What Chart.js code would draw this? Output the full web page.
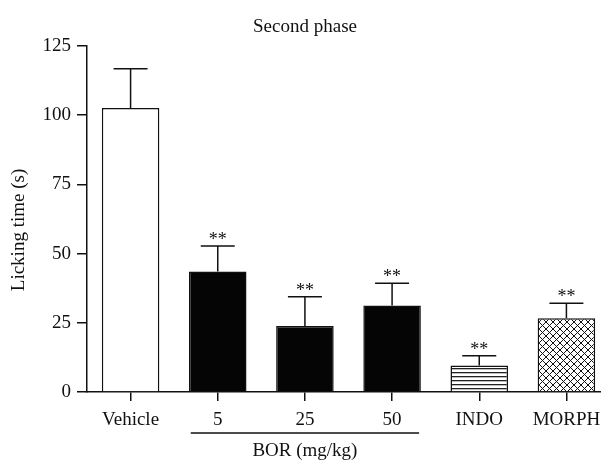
<!DOCTYPE html>
<html>
<head>
<meta charset="utf-8">
<script src="https://cdn.jsdelivr.net/npm/chart.js@4"></script>
<style>
  html, body { margin: 0; padding: 0; background: #fff; overflow: hidden; }
  #wrap { width: 601px; height: 462px; overflow: hidden; }
</style>
</head>
<body>
<div id="wrap"><canvas id="myChart" width="610" height="462"></canvas></div>
<script>
const categories = ["Vehicle", "5", "25", "50", "INDO", "MORPH"];
const means = [102.5, 43.5, 23.8, 31.2, 9.6, 26.6];
const sems = [14.2, 9.2, 10.6, 8.1, 3.5, 5.4];
const marks = ["", "**", "**", "**", "**", "**"];
const yTicks = [0, 25, 50, 75, 100, 125];

const FONT = "'Liberation Serif', 'Times New Roman', serif";

const ctx = document.querySelector("#myChart").getContext("2d");

// Hatch patterns for INDO and MORPH
function stripePattern() {
  const c = document.createElement("canvas");
  c.width = 8; c.height = 4;
  const g = c.getContext("2d");
  g.fillStyle = "#fff";
  g.fillRect(0, 0, 8, 4);
  g.fillStyle = "#222";
  g.fillRect(0, 0, 8, 1.3);
  return ctx.createPattern(c, "repeat");
}
function crossPattern() {
  const c = document.createElement("canvas");
  c.width = 7; c.height = 7;
  const g = c.getContext("2d");
  g.fillStyle = "#fff";
  g.fillRect(0, 0, 7, 7);
  g.strokeStyle = "#111";
  g.lineWidth = 1;
  g.beginPath();
  g.moveTo(0, 0); g.lineTo(7, 7);
  g.moveTo(7, 0); g.lineTo(0, 7);
  g.stroke();
  return ctx.createPattern(c, "repeat");
}

const fills = ["#fff", "#050505", "#050505", "#050505", stripePattern(), crossPattern()];

// error bars, asterisks, y title and the BOR bracket
const extras = {
  id: "extras",
  afterDatasetsDraw(chart) {
    const c = chart.ctx;
    const x = chart.scales.x, y = chart.scales.y;
    c.save();
    c.strokeStyle = "#111";
    c.lineWidth = 1.5;
    c.fillStyle = "#111";
    means.forEach((m, i) => {
      const cx = x.getPixelForValue(i);
      const top = y.getPixelForValue(m);
      const hi = y.getPixelForValue(m + sems[i]);
      c.beginPath();
      c.moveTo(cx, top); c.lineTo(cx, hi);
      c.moveTo(cx - 17, hi); c.lineTo(cx + 17, hi);
      c.stroke();
      if (marks[i]) {
        c.font = "18px " + FONT;
        c.textAlign = "center";
        c.textBaseline = "alphabetic";
        c.fillText(marks[i], cx, hi - 1);
      }
    });
    // BOR group
    const x1 = x.getPixelForValue(1) - 27;
    const x2 = x.getPixelForValue(3) + 27;
    c.beginPath();
    c.moveTo(x1, 433); c.lineTo(x2, 433);
    c.stroke();
    c.font = "19px " + FONT;
    c.textAlign = "center";
    c.textBaseline = "middle";
    c.fillText("BOR (mg/kg)", x.getPixelForValue(2), 451);
    // y axis title
    c.translate(19, 230);
    c.rotate(-Math.PI / 2);
    c.fillText("Licking time (s)", 0, 0);
    c.restore();
  }
};

const data = {
  labels: categories,
  datasets: [
    {
      data: means,
      backgroundColor: fills,
      borderColor: "#111",
      borderWidth: 1.5,
      categoryPercentage: 1,
      barPercentage: 0.66,
    },
  ],
};

const config = {
  type: "bar",
  data: data,
  plugins: [extras],
  options: {
    responsive: false,
    animation: false,
    layout: { padding: { left: 0, right: 0, top: 0, bottom: 0 } },
    plugins: {
      legend: { display: false },
      tooltip: { enabled: false },
      title: {
        display: true,
        text: "Second phase",
        color: "#111",
        font: { family: FONT, size: 19, weight: "normal" },
        padding: { top: 16, bottom: 7 },
      },
    },
    scales: {
      x: {
        grid: {
          offset: false,
          drawOnChartArea: false,
          drawTicks: true,
          tickLength: 9,
          color: "#111",
          lineWidth: 1.5,
        },
        border: { display: true, color: "#111", width: 1.5 },
        ticks: {
          color: "#111",
          padding: 8,
          maxRotation: 0,
          autoSkip: false,
          font: { family: FONT, size: 19 },
        },
        afterFit: (scale) => { scale.height = 70; },
      },
      y: {
        min: 0,
        max: 125,
        afterBuildTicks: (scale) => {
          scale.ticks = yTicks.map((v) => ({ value: v }));
        },
        grid: {
          drawOnChartArea: false,
          drawTicks: true,
          tickLength: 10,
          color: "#111",
          lineWidth: 1.5,
        },
        border: { display: true, color: "#111", width: 1.5 },
        ticks: {
          color: "#111",
          padding: 6,
          font: { family: FONT, size: 19 },
        },
        afterFit: (scale) => { scale.width = 87; },
      },
    },
  },
};

const myChart = new Chart(ctx, config);
</script>
</body>
</html>
